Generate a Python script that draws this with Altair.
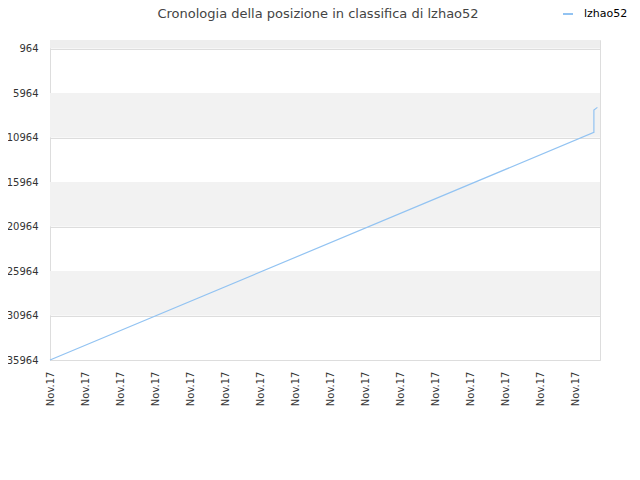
import altair as alt
import pandas as pd

# data
pos_x = [0.0, 15.54, 15.54, 15.64]
rank = [35964, 10384, 7875, 7571]
series = ["lzhao52"] * 4
tick_vals = [964, 5964, 10964, 15964, 20964, 25964, 30964, 35964]
x_ticks = list(range(16))
band_lo = [0, 5964, 15964, 25964]
band_hi = [964, 10964, 20964, 30964]
band_col = ["#eeeeee", "#f2f2f2", "#f2f2f2", "#f2f2f2"]
title_text = "Cronologia della posizione in classifica di lzhao52"

line_df = pd.DataFrame({"x": pos_x, "rank": rank, "name": series})
band_df = pd.DataFrame({"lo": band_lo, "hi": band_hi, "c": band_col})

XMAX = 550 / 35
ydom = [35964, 0]

xscale = alt.Scale(domain=[0, XMAX], nice=False, zero=False)
yscale = alt.Scale(domain=ydom, nice=False, zero=False)
yaxis = alt.Axis(values=tick_vals, format="d", ticks=False, grid=True, gridColor="#dddddd",
                 domain=True, domainColor="#dddddd", labelFontSize=10,
                 labelColor="#333333", labelFont="DejaVu Sans", labelPadding=12)

bands = alt.Chart(band_df).mark_rect().encode(
    x=alt.value(0), x2=alt.value(550),
    y=alt.Y("lo:Q", scale=yscale, axis=yaxis, title=None),
    y2="hi:Q",
    fill=alt.Fill("c:N", scale=None, legend=None),
)

line = alt.Chart(line_df).mark_line(strokeWidth=1.2, interpolate="linear").encode(
    x=alt.X("x:Q", scale=xscale, title=None,
            axis=alt.Axis(values=x_ticks, labelExpr="'Nov.17'", labelAngle=-90,
                          labelAlign="right", labelBaseline="middle", ticks=False,
                          grid=False, domain=False, labelFontSize=10, labelColor="#333333",
                          labelFont="DejaVu Sans", labelPadding=11)),
    y=alt.Y("rank:Q", scale=yscale, title=None, axis=yaxis),
    stroke=alt.Stroke("name:N", scale=alt.Scale(range=["#92c3f2"]),
                      legend=alt.Legend(title=None, orient="none", legendX=512, legendY=-32,
                                        symbolType="stroke", symbolSize=100, symbolStrokeWidth=2,
                                        labelOffset=10, labelFontSize=11, labelFont="DejaVu Sans",
                                        labelColor="#000000", labelBaseline="middle")),
)

title = alt.Chart(pd.DataFrame({"t": [title_text]})).mark_text(
    font="DejaVu Sans", fontSize=13, color="#444444", align="center", baseline="bottom"
).encode(x=alt.value(268), y=alt.value(-19), text="t:N")

chart = alt.layer(bands, line, title).properties(
    width=550, height=320,
    autosize=alt.AutoSizeParams(type="none"),
    padding={"left": 42, "top": 32, "right": 32, "bottom": 100},
).configure_view(stroke="#dddddd")

chart.save("out.html", embed_options={"renderer": "svg", "actions": False})
